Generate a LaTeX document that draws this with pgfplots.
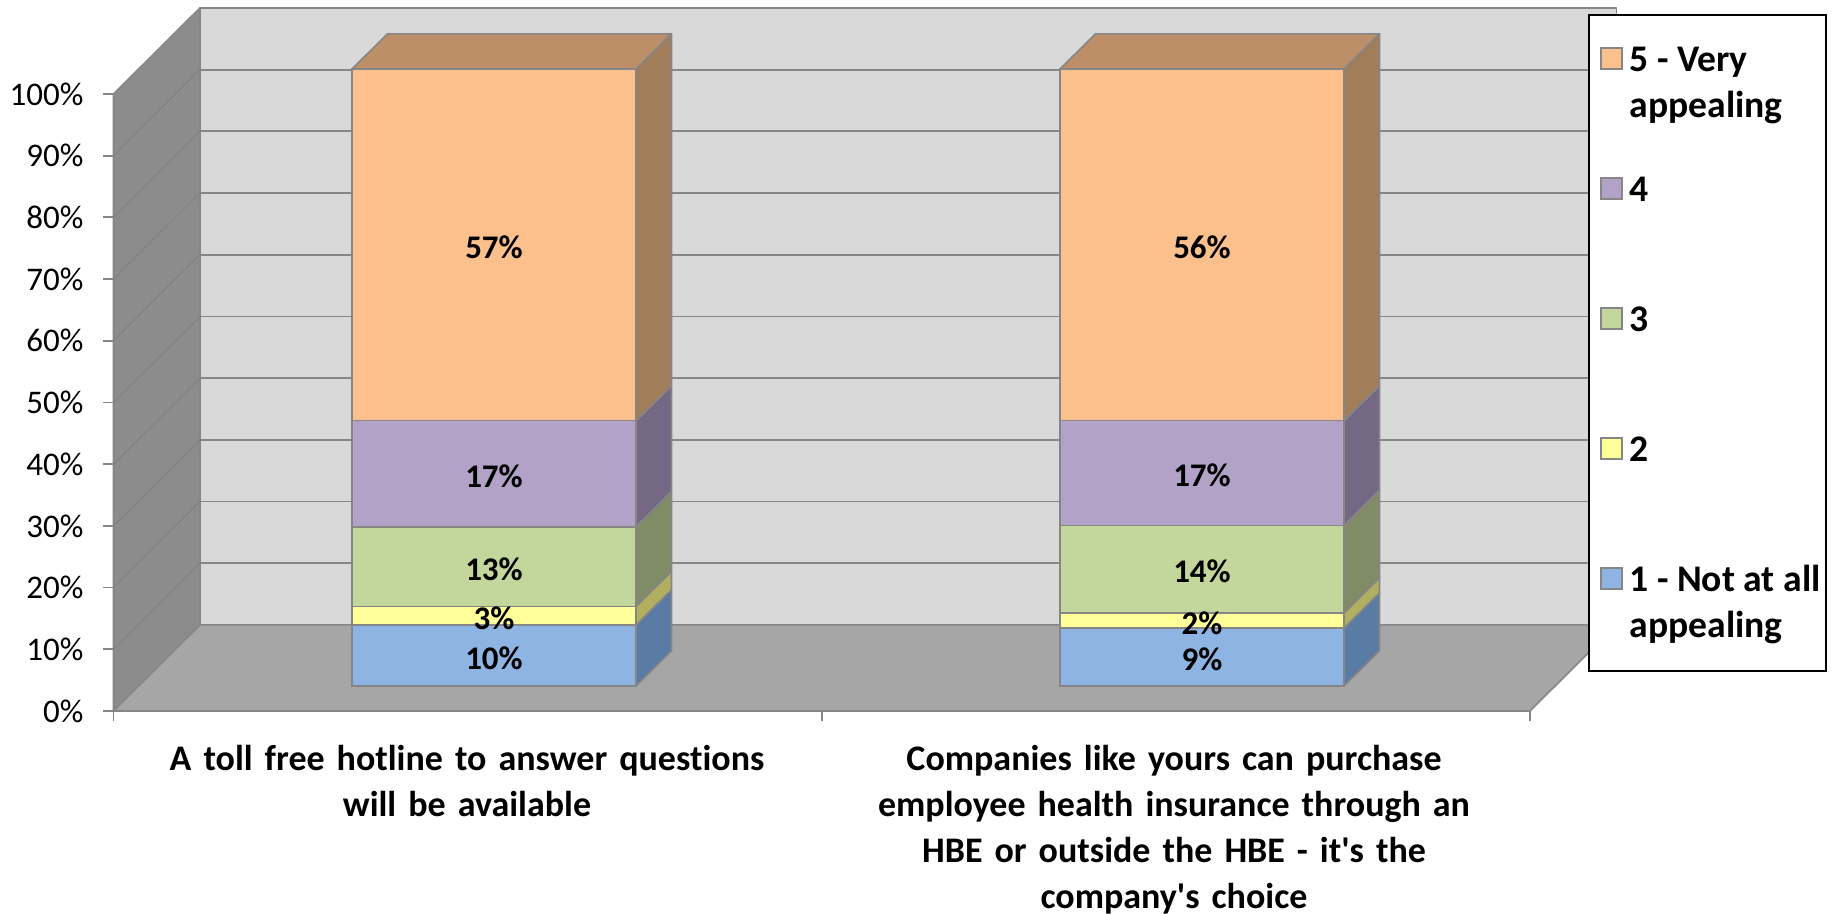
\documentclass[border=0pt]{standalone}
\usepackage{pgfplots}
\pgfplotsset{compat=1.18}
\usepackage{fontspec}
\setmainfont{Carlito}[Ligatures={TeXOff,CommonOff}]

% 1 px of the reference = 0.5pt
\definecolor{wallback}{HTML}{D9D9D9}
\definecolor{wallleft}{HTML}{8C8C8C}
\definecolor{wallfloor}{HTML}{A6A6A6}
\definecolor{edge}{HTML}{868686}
\definecolor{leftgrid}{HTML}{828282}
\definecolor{c1}{HTML}{8EB4E3}\definecolor{c1s}{HTML}{5A7BA3}
\definecolor{c2}{HTML}{FFFF99}\definecolor{c2s}{HTML}{B0B060}
\definecolor{c3}{HTML}{C3D69B}\definecolor{c3s}{HTML}{7F8C65}
\definecolor{c4}{HTML}{B3A2C7}\definecolor{c4s}{HTML}{756885}
\definecolor{c5}{HTML}{FCC08C}\definecolor{c5s}{HTML}{A17D5A}\definecolor{c5t}{HTML}{BC8F69}

\pgfplotsset{
  chartbase/.style={
    scale only axis, width=708.25pt, height=308.5pt,
    xmin=113.5, xmax=1530, ymin=0, ymax=100, clip=false,
  },
  poly/.style={draw=edge, line width=0.8pt, line join=round, fill=#1},
  seg/.style={
    fill=#1, draw=edge, line width=0.8pt,
    legend image code/.code={\draw[##1] (0pt,1pt) rectangle (10.5pt,11.5pt);},
  },
}
% legend rows: box with fixed height and depth, baseline on the first line
\newcommand{\lab}[2][47pt]{\raisebox{0pt}[18pt][#1]{\parbox[t]{92.8pt}{\baselineskip=23pt #2}}}

\begin{document}
\begin{tikzpicture}
\path[use as bounding box] (-56.75pt,-101.5pt) rectangle (859.75pt,355.5pt);

% walls, floor, gridlines, axis ticks and labels
\begin{axis}[chartbase,
    axis x line=bottom, axis y line=left,
    axis line style={-, draw=edge, line width=0.9pt},
    tick style={draw=edge, line width=0.9pt},
    tick align=outside, major tick length=5pt, minor tick length=5pt,
    ytick={0,10,...,100},
    yticklabel={\pgfmathprintnumber{\tick}\%},
    /pgf/number format/assume math mode=true,
    yticklabel style={font=\fontsize{16.5}{19}\selectfont, xshift=-6.5pt},
    xtick={467,1174},
    minor xtick={113.5,821.75,1530},
    major x tick style={draw=none},
    xticklabels={A toll free hotline to answer questions\\will be available,
      Companies like yours can purchase\\employee health insurance through an\\HBE or outside the HBE - it's the\\company's choice},
    xticklabel style={font=\fontsize{18}{23}\selectfont\bfseries, align=center, text width=340pt, yshift=-8.5pt},
  ]
  \addplot[poly=wallback] coordinates {(200,13.95)(1616.5,13.95)(1616.5,113.95)(200,113.95)(200,13.95)};
  \addplot[poly=wallleft] coordinates {(113.5,0)(200,13.95)(200,113.95)(113.5,100)(113.5,0)};
  \addplot[poly=wallfloor] coordinates {(113.5,0)(1530,0)(1616.5,13.95)(200,13.95)(113.5,0)};
  \addplot[draw=edge, line width=0.9pt, unbounded coords=jump] table {
    200 23.95
    1616.5 23.95
    nan nan
    200 33.95
    1616.5 33.95
    nan nan
    200 43.95
    1616.5 43.95
    nan nan
    200 53.95
    1616.5 53.95
    nan nan
    200 63.95
    1616.5 63.95
    nan nan
    200 73.95
    1616.5 73.95
    nan nan
    200 83.95
    1616.5 83.95
    nan nan
    200 93.95
    1616.5 93.95
    nan nan
    200 103.95
    1616.5 103.95
  };
  \addplot[draw=leftgrid, line width=0.6pt, unbounded coords=jump] table {
    113.5 10
    200 23.95
    nan nan
    113.5 20
    200 33.95
    nan nan
    113.5 30
    200 43.95
    nan nan
    113.5 40
    200 53.95
    nan nan
    113.5 50
    200 63.95
    nan nan
    113.5 60
    200 73.95
    nan nan
    113.5 70
    200 83.95
    nan nan
    113.5 80
    200 93.95
    nan nan
    113.5 90
    200 103.95
  };
\end{axis}

% side and top faces of the two columns
\begin{axis}[chartbase, at={(0pt,12.5pt)}, hide axis]
  \addplot[poly=c1s] coordinates {(636,0)(671.5,5.7)(671.5,15.6)(636,9.9)(636,0)};
  \addplot[poly=c2s] coordinates {(636,9.9)(671.5,15.6)(671.5,18.6)(636,12.9)(636,9.9)};
  \addplot[poly=c3s] coordinates {(636,12.9)(671.5,18.6)(671.5,31.5)(636,25.8)(636,12.9)};
  \addplot[poly=c4s] coordinates {(636,25.8)(671.5,31.5)(671.5,48.7)(636,43)(636,25.8)};
  \addplot[poly=c5s] coordinates {(636,43)(671.5,48.7)(671.5,105.7)(636,100)(636,43)};
  \addplot[poly=c5t] coordinates {(352,100)(387.5,105.7)(671.5,105.7)(636,100)(352,100)};
  \addplot[poly=c1s] coordinates {(1344,0)(1379.5,5.7)(1379.5,15.1)(1344,9.4)(1344,0)};
  \addplot[poly=c2s] coordinates {(1344,9.4)(1379.5,15.1)(1379.5,17.55)(1344,11.85)(1344,9.4)};
  \addplot[poly=c3s] coordinates {(1344,11.85)(1379.5,17.55)(1379.5,31.7)(1344,26)(1344,11.85)};
  \addplot[poly=c4s] coordinates {(1344,26)(1379.5,31.7)(1379.5,48.7)(1344,43)(1344,26)};
  \addplot[poly=c5s] coordinates {(1344,43)(1379.5,48.7)(1379.5,105.7)(1344,100)(1344,43)};
  \addplot[poly=c5t] coordinates {(1060,100)(1095.5,105.7)(1379.5,105.7)(1344,100)(1060,100)};
\end{axis}

% front faces, stacked to 100%; the printed share goes in as point meta
\begin{axis}[chartbase, at={(0pt,12.5pt)}, hide axis,
    ybar stacked, bar width=142pt,
    point meta=explicit,
    nodes near coords={\pgfmathprintnumber[fixed,precision=0,assume math mode=true]{\pgfplotspointmeta}\%},
    every node near coord/.append style={
      anchor=center, font=\fontsize{16.5}{19}\selectfont\bfseries, text=black, yshift=-1.2pt},
    reverse legend,
    legend style={
      at={(1.04095,1.0891)}, anchor=north west,
      draw=black, line width=1pt,
      font=\fontsize{18.8}{23}\selectfont\bfseries,
      inner xsep=5.5pt, inner ysep=10pt,
      nodes={inner sep=0pt, text depth=},
      cells={anchor=base west},
      /tikz/every odd column/.append style={column sep=3.5pt},
    },
  ]
  \addplot[seg=c1] coordinates {(494,9.9) [10] (1202,9.4) [9]};
  \addplot[seg=c2] coordinates {(494,3.0) [3] (1202,2.45) [2]};
  \addplot[seg=c3] coordinates {(494,12.9) [13] (1202,14.15) [14]};
  \addplot[seg=c4] coordinates {(494,17.2) [17] (1202,17.0) [17]};
  \addplot[seg=c5] coordinates {(494,57.0) [57] (1202,57.0) [56]};
  \addlegendentry{\lab[29.75pt]{\mbox{1 - Not at all}\\appealing}}
  \addlegendentry{\lab{2}}
  \addlegendentry{\lab{3}}
  \addlegendentry{\lab{4}}
  \addlegendentry{\lab{5 - Very\\appealing}}
\end{axis}
\end{tikzpicture}
\end{document}
